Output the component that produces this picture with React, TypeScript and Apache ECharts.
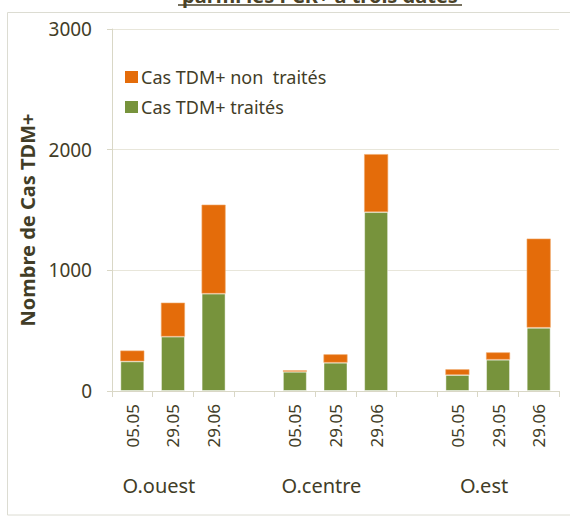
import React, { useEffect, useRef } from "react";
import * as echarts from "echarts";

const categories = ["05.05", "29.05", "29.06", "", "05.05", "29.05", "29.06", "", "05.05", "29.05", "29.06"];
const groupLabels = ["O.ouest", "O.centre", "O.est"];
const groupSlots = [1, 5, 9];
const treated = [246, 451, 807, null, 160, 235, 1483, null, 133, 260, 525];
const untreated = [89, 281, 737, null, 11, 69, 480, null, 47, 60, 738];
const seriesNames = ["Cas TDM+ non  traités", "Cas TDM+ traités"];
const yAxisTitle = "Nombre de Cas TDM+";
const titleText = "parmi les PCR+ à trois dates";
const yMin = 0;
const yMax = 3000;
const yInterval = 1000;

const TEXT = "#423d27";
const ORANGE = "#E46C0A";
const GREEN = "#77933C";
const FONT = "Noto Sans";

export default function App() {
  const ref = useRef<HTMLDivElement>(null);
  useEffect(() => {
    if (!ref.current) return;
    const chart = echarts.init(ref.current, null, { renderer: "svg" });
    const groupAxisData = categories.map((_, i) => {
      const k = groupSlots.indexOf(i);
      return k >= 0 ? groupLabels[k] : " ";
    });
    chart.setOption({
      animation: false,
      backgroundColor: "#ffffff",
      textStyle: { fontFamily: FONT, color: TEXT },
      grid: { left: 112, right: 11, top: 29, bottom: 125, containLabel: false },
      legend: {
        orient: "vertical",
        left: 120,
        top: 63,
        itemWidth: 13,
        itemHeight: 12,
        itemGap: 12,
        icon: "rect",
        selectedMode: false,
        data: [seriesNames[0], seriesNames[1]],
        itemStyle: { borderWidth: 0 },
        textStyle: { fontFamily: FONT, fontSize: 18, color: TEXT, padding: [0, 0, 0, -2] },
      },
      xAxis: [
        {
          type: "category",
          data: categories,
          axisLine: { lineStyle: { color: "#d9d7c6", width: 1 } },
          axisTick: { show: true, length: 6, lineStyle: { color: "#d9d7c6" } },
          axisLabel: { interval: 0, rotate: 90, margin: 13, fontSize: 17, color: TEXT, fontFamily: FONT },
          splitLine: { show: false },
        },
        {
          type: "category",
          data: groupAxisData,
          position: "bottom",
          axisLine: { show: false },
          axisTick: { show: false },
          axisLabel: { interval: 0, margin: 84, fontSize: 20, color: TEXT, fontFamily: FONT, padding: [0, 28, 0, 0] },
          splitLine: { show: false },
        },
      ],
      yAxis: {
        type: "value",
        min: yMin,
        max: yMax,
        interval: yInterval,
        axisLine: { show: true, lineStyle: { color: "#d9d7c6", width: 1 } },
        axisTick: { show: true, length: 5, lineStyle: { color: "#d9d7c6" } },
        axisLabel: {
          margin: 20,
          fontSize: 19,
          color: TEXT,
          fontFamily: FONT,
          formatter: (v: number) => String(v),
        },
        splitLine: { lineStyle: { color: "#e8e6da", width: 1 } },
      },
      series: [
        {
          name: seriesNames[1],
          type: "bar",
          stack: "total",
          xAxisIndex: 0,
          barWidth: 24,
          data: treated,
          itemStyle: { color: GREEN, borderColor: "rgba(255,255,255,0.45)", borderWidth: 1 },
        },
        {
          name: seriesNames[0],
          type: "bar",
          stack: "total",
          xAxisIndex: 0,
          barWidth: 24,
          data: untreated,
          itemStyle: { color: ORANGE, borderColor: "#f0a868", borderWidth: 0.6 },
        },
      ],
      graphic: [
        {
          type: "rect",
          z: -10,
          shape: { x: 7.5, y: 12.5, width: 600, height: 502.5 },
          style: { fill: "none", stroke: "#dcdcd2", lineWidth: 1 },
          silent: true,
        },
        {
          type: "text",
          x: 320,
          y: -5,
          style: {
            text: titleText,
            fontFamily: FONT,
            fontWeight: "bold",
            fontSize: 20,
            fill: "#4a4228",
            align: "center",
            verticalAlign: "middle",
          },
        },
        {
          type: "line",
          shape: { x1: 178, y1: 5, x2: 462, y2: 5 },
          style: { stroke: "#4a4228", lineWidth: 1.6 },
        },
        {
          type: "text",
          x: 27,
          y: 220,
          rotation: Math.PI / 2,
          style: {
            text: yAxisTitle,
            fontFamily: FONT,
            fontWeight: "bold",
            fontSize: 20,
            fill: TEXT,
            align: "center",
            verticalAlign: "middle",
          },
        },
      ],
    });
    return () => chart.dispose();
  }, []);
  return <div ref={ref} style={{ position: "absolute", left: 0, top: 0, width: 570, height: 516 }} />;
}
